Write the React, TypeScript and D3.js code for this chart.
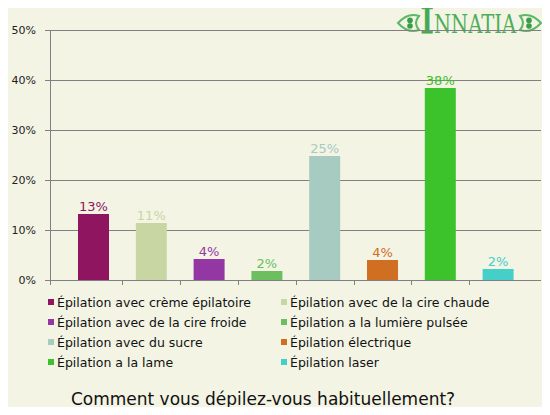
import { useRef, useEffect } from "react";
import * as d3 from "d3";

const categories = [
  "Épilation avec crème épilatoire",
  "Épilation avec de la cire chaude",
  "Épilation avec de la cire froide",
  "Épilation a la lumière pulsée",
  "Épilation avec du sucre",
  "Épilation électrique",
  "Épilation a la lame",
  "Épilation laser",
];
const values = [13.2, 11.4, 4.2, 1.8, 24.8, 4.0, 38.4, 2.2];
const valueLabels = ["13%", "11%", "4%", "2%", "25%", "4%", "38%", "2%"];
const colors = ["#8f1560", "#c8d6a4", "#9437a4", "#6cbf5e", "#a7cac1", "#d06e22", "#3cc22a", "#44cfc9"];
const yTicks = [0, 10, 20, 30, 40, 50];
const title = "Comment vous dépilez-vous habituellement?";

const W = 550;
const H = 415;
const font = "'DejaVu Sans', Verdana, sans-serif";

const App = () => {
  const svgRef = useRef(null);

  useEffect(() => {
    const svg = d3.select(svgRef.current);
    svg.selectAll("*").remove();

    const left = 50, right = 541, top = 30, bottom = 280;

    svg.append("rect").attr("width", W).attr("height", H).attr("fill", "#f3f4e4");

    const x = d3.scaleBand().domain(categories).range([64.6, 527]).paddingInner(0.464).paddingOuter(0.232);
    const y = d3.scaleLinear().domain([0, 50]).range([bottom, top]);

    // logo (drawn under the grid line that crosses it)
    const logo = svg.append("g");
    const eye = (cx, flip) => {
      const g = logo.append("g").attr("transform", `translate(${cx},23) scale(${flip ? -1 : 1},1)`);
      g.append("path")
        .attr("d", "M-10,0 Q0,-11 11,-7 Q5,0 11,7 Q0,11 -10,0 Z")
        .attr("fill", "none").attr("stroke", "#5cb866").attr("stroke-width", 2);
      g.append("circle").attr("cx", 2).attr("cy", -2.6).attr("r", 2.8).attr("fill", "#3a9e48");
      g.append("circle").attr("cx", 2).attr("cy", 3).attr("r", 2.8).attr("fill", "#3a9e48");
    };
    eye(408, false);
    eye(531, true);
    logo.append("text")
      .attr("x", 420).attr("y", 33)
      .attr("font-family", "'DejaVu Serif', serif").attr("font-size", 36)
      .attr("fill", "#45a852").attr("stroke", "#45a852").attr("stroke-width", 0.8)
      .text("I");
    logo.append("text")
      .attr("x", 434).attr("y", 33)
      .attr("font-family", "'DejaVu Serif', serif").attr("font-size", 26)
      .attr("fill", "#4cae57").attr("textLength", 82).attr("lengthAdjust", "spacingAndGlyphs")
      .text("NNATIA");

    // grid lines
    svg.append("g")
      .selectAll("line")
      .data(yTicks)
      .join("line")
      .attr("x1", left - 5).attr("x2", right)
      .attr("y1", d => y(d) + 0.5).attr("y2", d => y(d) + 0.5)
      .attr("stroke", "#808080").attr("stroke-width", 1);

    svg.append("g")
      .selectAll("text")
      .data(yTicks)
      .join("text")
      .attr("x", 36).attr("y", d => y(d) + 4)
      .attr("text-anchor", "end")
      .attr("font-family", font).attr("font-size", 11).attr("fill", "#222")
      .text(d => `${d}%`);

    // y axis line
    svg.append("line")
      .attr("x1", left + 0.5).attr("x2", left + 0.5)
      .attr("y1", top).attr("y2", bottom + 5)
      .attr("stroke", "#808080");

    // x ticks between categories
    const step = x.step();
    const bounds = categories.slice(1).map(c => x(c) - (step - x.bandwidth()) / 2);
    svg.append("g")
      .selectAll("line")
      .data(bounds)
      .join("line")
      .attr("x1", d => Math.round(d) + 0.5).attr("x2", d => Math.round(d) + 0.5)
      .attr("y1", bottom).attr("y2", bottom + 5)
      .attr("stroke", "#808080");

    // bars
    svg.append("g")
      .selectAll("rect")
      .data(values)
      .join("rect")
      .attr("x", (d, i) => x(categories[i]))
      .attr("width", x.bandwidth())
      .attr("y", d => y(d))
      .attr("height", d => y(0) - y(d))
      .attr("fill", (d, i) => colors[i]);

    svg.append("g")
      .selectAll("text")
      .data(values)
      .join("text")
      .attr("x", (d, i) => x(categories[i]) + x.bandwidth() / 2)
      .attr("y", d => y(d) - 3)
      .attr("text-anchor", "middle")
      .attr("font-family", font).attr("font-size", 13)
      .attr("fill", (d, i) => colors[i])
      .text((d, i) => valueLabels[i]);

    // legend
    const lg = svg.append("g")
      .selectAll("g")
      .data(categories)
      .join("g")
      .attr("transform", (d, i) => `translate(${i % 2 === 0 ? 48 : 281}, ${302 + Math.floor(i / 2) * 20})`);
    lg.append("rect")
      .attr("x", 0).attr("y", -3).attr("width", 6).attr("height", 6)
      .attr("fill", (d, i) => colors[i]);
    lg.append("text")
      .attr("x", 9).attr("y", 4.5)
      .attr("font-family", font).attr("font-size", 12.5).attr("fill", "#111")
      .text(d => d);

    svg.append("text")
      .attr("x", 263).attr("y", 405)
      .attr("text-anchor", "middle")
      .attr("font-family", font).attr("font-size", 17).attr("fill", "#111")
      .text(title);
  }, []);

  return <svg ref={svgRef} width={W} height={H} style={{ display: "block", margin: -8 }} />;
};

export default App;
